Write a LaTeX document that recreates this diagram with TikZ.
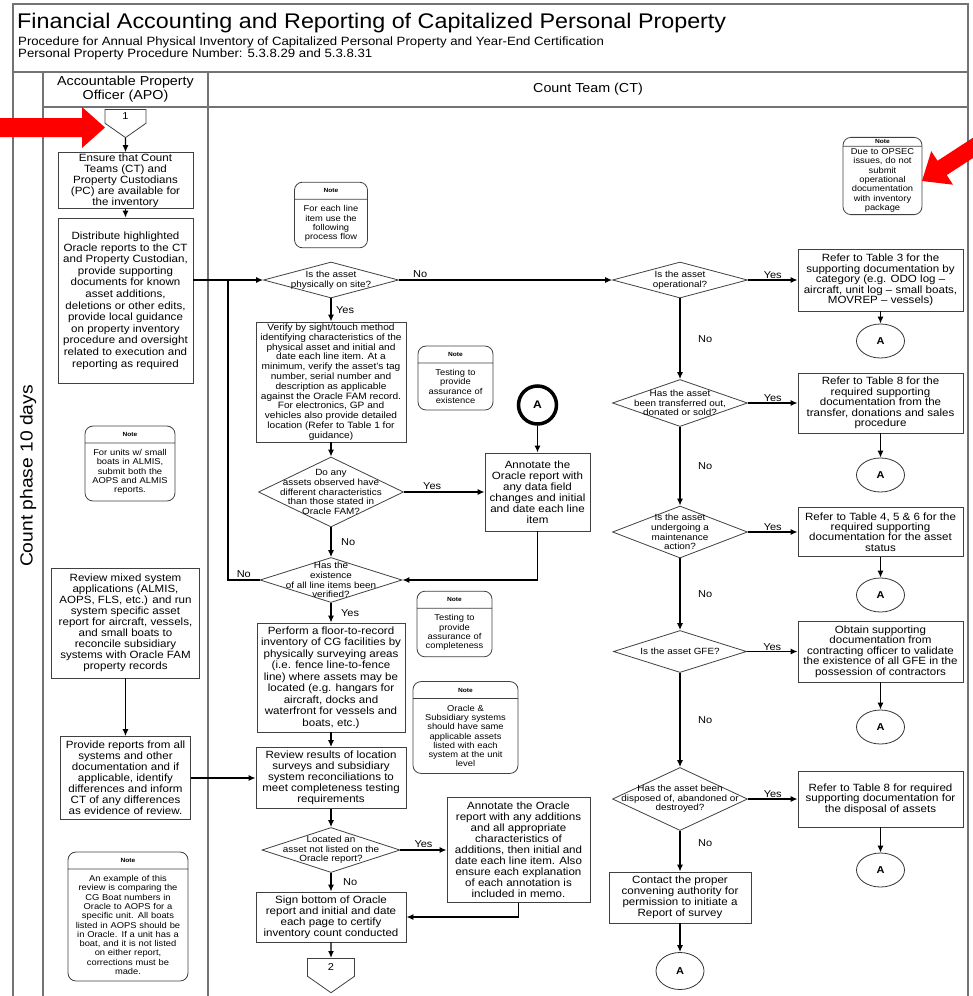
\documentclass[tikz,border=0pt]{standalone}
\usepackage{fontspec}
\setmainfont{Liberation Sans}[FakeStretch=1.1]
\usepackage{tikz}
\usetikzlibrary{shapes.geometric,shapes.symbols,shapes.multipart,arrows.meta}

\newcommand{\notehead}{{\fontsize{6}{6}\selectfont\bfseries Note}}

\tikzset{
  >={Latex[length=7pt,width=6pt]},
  lane/.style={draw=black!55, line width=1.4pt},
  proc/.style={draw=black!75, line width=0.8pt, align=center, inner sep=1pt,
    font=\fontsize{10.5}{11}\selectfont},
  rproc/.style={proc, minimum width=165pt, font=\fontsize{10.5}{10.4}\selectfont},
  decide/.style={diamond, draw=black!75, line width=0.8pt, inner sep=0pt},
  qtext/.style={align=center, inner sep=0pt, font=\fontsize{9}{9.6}\selectfont},
  note/.style={rectangle split, rectangle split parts=2, draw=black!75,
    line width=0.8pt, rounded corners=8pt, align=center, inner xsep=2pt,
    inner ysep=6pt, font=\fontsize{8.5}{9.3}\selectfont},
  conA/.style={ellipse, draw=black!80, line width=0.8pt, minimum width=48pt,
    minimum height=34pt, inner sep=0pt, font=\fontsize{10}{10}\selectfont\bfseries},
  offpage/.style={signal, signal to=south, signal from=nowhere,
    signal pointer angle=110, draw=black!75, line width=0.8pt, inner sep=0pt,
    font=\fontsize{10}{10}\selectfont},
  flow/.style={line width=1.3pt, ->},
  lbl/.style={font=\fontsize{10}{10}\selectfont, inner sep=1.5pt},
}

\begin{document}
\begin{tikzpicture}[x=1pt, y=-1pt]
  \useasboundingbox (0,0) rectangle (973,996);
  \clip (0,0) rectangle (973,996);

  % frame and swim lanes
  \draw[lane] (13,1000) -- (13,4) -- (968,4) -- (968,1000);
  \draw[lane] (13,72) -- (968,72);
  \draw[lane] (43,107) -- (968,107);
  \draw[lane] (43,72) -- (43,1000);
  \draw[lane] (208,72) -- (208,1000);

  \node[anchor=west, inner sep=0pt, font=\fontsize{21.2}{22}\selectfont] (title) at (17,23)
    {Financial Accounting and Reporting of Capitalized Personal Property};
  \node[anchor=north west, align=left, inner sep=0pt, font=\fontsize{12}{12}\selectfont] (subtitle) at (18,37)
    {Procedure for Annual Physical Inventory of Capitalized Personal Property and Year-End Certification\\
     Personal Property Procedure Number: 5.3.8.29 and 5.3.8.31};
  \node[align=center, font=\fontsize{13}{14}\selectfont] (apo) at (125.5,89.5) {Accountable Property\\Officer (APO)};
  \node[font=\fontsize{13}{14}\selectfont] (ct) at (588,89.5) {Count Team (CT)};
  \node[rotate=90, font=\fontsize{17.5}{18}\selectfont] (phase) at (28,476) {Count phase 10 days};

  % APO lane
  \node[offpage, minimum width=41pt, minimum height=16pt, anchor=north] (c1) at (125.5,109) {1};
  \node[proc, minimum width=135pt, minimum height=55pt] (ensure) at (125.5,180.5)
    {Ensure that Count\\Teams (CT) and\\Property Custodians\\(PC) are available for\\the inventory};
  \node[proc, minimum width=135pt, minimum height=165pt, font=\fontsize{10.5}{11.6}\selectfont] (dist) at (125.5,300.5)
    {Distribute highlighted\\Oracle reports to the CT\\and Property Custodian,\\provide supporting\\documents for known\\asset additions,\\deletions or other edits,\\provide local guidance\\on property inventory\\procedure and oversight\\related to execution and\\reporting as required};
  \node[note, text width=86pt] (nboats) at (130,463.5)
    {\notehead\nodepart{two}For units w/ small\\boats in ALMIS,\\submit both the\\AOPS and ALMIS\\reports.};
  \node[proc, minimum width=148pt, minimum height=110pt] (mixed) at (125.5,623)
    {Review mixed system\\applications (ALMIS,\\AOPS, FLS, etc.) and run\\system specific asset\\report for aircraft, vessels,\\and small boats to\\reconcile subsidiary\\systems with Oracle FAM\\property records};
  \node[proc, minimum width=130pt, minimum height=83pt] (provide) at (125.5,778)
    {Provide reports from all\\systems and other\\documentation and if\\applicable, identify\\differences and inform\\CT of any differences\\as evidence of review.};
  \node[note, text width=116pt] (nexample) at (128,916.5)
    {\notehead\nodepart{two}An example of this\\review is comparing the\\CG Boat numbers in\\Oracle to AOPS for a\\specific unit. All boats\\listed in AOPS should be\\in Oracle. If a unit has a\\boat, and it is not listed\\on either report,\\corrections must be\\made.};

  % CT lane, line items
  \node[note, text width=69pt] (nline) at (331,215)
    {\notehead\nodepart{two}For each line\\item use the\\following\\process flow};
  \node[decide, minimum width=135pt, minimum height=36pt,
    label={[qtext]center:{Is the asset\\physically on site?}}] (d1) at (331,280) {};
  \node[proc, minimum width=150pt, minimum height=120pt, font=\fontsize{9.2}{9.8}\selectfont] (verify) at (331,382)
    {Verify by sight/touch method\\identifying characteristics of the\\physical asset and initial and\\date each line item. At a\\minimum, verify the asset's tag\\number, serial number and\\description as applicable\\against the Oracle FAM record.\\For electronics, GP and\\vehicles also provide detailed\\location (Refer to Table 1 for\\guidance)};
  \node[note, text width=71pt] (nexist) at (455.5,378)
    {\notehead\nodepart{two}Testing to\\provide\\assurance of\\existence};
  \node[circle, draw, line width=3.5pt, minimum size=38pt, inner sep=0pt,
    font=\fontsize{11}{11}\selectfont\bfseries] (abold) at (537.5,405) {A};
  \node[proc, minimum width=105pt, minimum height=78pt] (annot1) at (537.5,492)
    {Annotate the\\Oracle report with\\any data field\\changes and initial\\and date each line\\item};
  \node[decide, minimum width=145pt, minimum height=70pt,
    label={[qtext]center:{Do any\\assets observed have\\different characteristics\\than those stated in\\Oracle FAM?}}] (d2) at (331,492) {};
  \node[decide, minimum width=142pt, minimum height=45pt,
    label={[qtext]center:{Has the\\existence\\of all line items been\\verified?}}] (d3) at (331,580) {};
  \coordinate (loop) at (228,280);
  \node[proc, minimum width=148pt, minimum height=109pt, font=\fontsize{10.5}{11.5}\selectfont] (perform) at (331,677.5)
    {Perform a floor-to-record\\inventory of CG facilities by\\physically surveying areas\\(i.e. fence line-to-fence\\line) where assets may be\\located (e.g. hangars for\\aircraft, docks and\\waterfront for vessels and\\boats, etc.)};
  \node[note, text width=71pt] (ncomplete) at (454.5,624)
    {\notehead\nodepart{two}Testing to\\provide\\assurance of\\completeness};
  \node[note, text width=101pt] (noracle) at (465.5,727.5)
    {\notehead\nodepart{two}Oracle \&\\Subsidiary systems\\should have same\\applicable assets\\listed with each\\system at the unit\\level};
  \node[proc, minimum width=150pt, minimum height=61pt] (revres) at (331,778)
    {Review results of location\\surveys and subsidiary\\system reconciliations to\\meet completeness testing\\requirements};
  \node[decide, minimum width=138pt, minimum height=45pt,
    label={[qtext]center:{Located an\\asset not listed on the\\Oracle report?}}] (d4) at (331,850) {};
  \node[proc, minimum width=143pt, minimum height=105pt] (annot2) at (518.5,850)
    {Annotate the Oracle\\report with any additions\\and all appropriate\\characteristics of\\additions, then initial and\\date each line item. Also\\ensure each explanation\\of each annotation is\\included in memo.};
  \node[proc, minimum width=150pt, minimum height=50pt] (sign) at (331,917)
    {Sign bottom of Oracle\\report and initial and date\\each page to certify\\inventory count conducted};
  \node[offpage, minimum width=47pt, minimum height=20pt, anchor=north] (c2) at (331,958) {2};

  % CT lane, assets not on site
  \node[note, text width=75pt, inner ysep=2pt] (nopsec) at (882.5,176)
    {\notehead\nodepart{two}Due to OPSEC\\issues, do not\\submit\\operational\\documentation\\with inventory\\package};
  \node[decide, minimum width=135pt, minimum height=36pt,
    label={[qtext]center:{Is the asset\\operational?}}] (d5) at (680,280) {};
  \node[rproc, minimum height=62pt] (tab3) at (880.5,280)
    {Refer to Table 3 for the\\supporting documentation by\\category (e.g. ODO log --\\aircraft, unit log -- small boats,\\MOVREP -- vessels)};
  \node[conA] (a1) at (880.5,341) {A};
  \node[decide, minimum width=135pt, minimum height=47pt,
    label={[qtext]center:{Has the asset\\been transferred out,\\donated or sold?}}] (d6) at (680,403) {};
  \node[rproc, minimum height=60pt] (tab8) at (880.5,403)
    {Refer to Table 8 for the\\required supporting\\documentation from the\\transfer, donations and sales\\procedure};
  \node[conA] (a2) at (880.5,475) {A};
  \node[decide, minimum width=135pt, minimum height=52pt,
    label={[qtext]center:{Is the asset\\undergoing a\\maintenance\\action?}}] (d7) at (680,532) {};
  \node[rproc, minimum height=49pt] (tab456) at (880.5,532)
    {Refer to Table 4, 5 \& 6 for the\\required supporting\\documentation for the asset\\status};
  \node[conA] (a3) at (880.5,595) {A};
  \node[decide, minimum width=133pt, minimum height=42pt,
    label={[qtext]center:{Is the asset GFE?}}] (d8) at (680,651.5) {};
  \node[rproc, minimum height=61pt] (gfe) at (880.5,651.5)
    {Obtain supporting\\documentation from\\contracting officer to validate\\the existence of all GFE in the\\possession of contractors};
  \node[conA] (a4) at (880.5,727) {A};
  \node[decide, minimum width=135pt, minimum height=63pt,
    label={[qtext]center:{Has the asset been\\disposed of, abandoned or\\destroyed?}}] (d9) at (680,799) {};
  \node[rproc, minimum height=56pt] (disp) at (880.5,799)
    {Refer to Table 8 for required\\supporting documentation for\\the disposal of assets};
  \node[conA] (a5) at (880.5,870) {A};
  \node[proc, minimum width=142pt, minimum height=51pt] (contact) at (680,897.5)
    {Contact the proper\\convening authority for\\permission to initiate a\\Report of survey};
  \node[conA, minimum height=37pt] (a6) at (680,971) {A};

  % connectors
  \draw[flow] (c1) -- (ensure);
  \draw[flow] (ensure) -- (dist);
  \draw[flow] (dist.east |- d1) -- (d1);
  \draw[flow] (mixed) -- (provide);
  \draw[flow] (provide) -- (revres);
  \draw[flow] (d1) -- (verify) node[lbl, midway, right=3pt] {Yes};
  \draw[flow] (d1) -- (d5) node[lbl, pos=0.1, above] {No};
  \draw[flow] (verify) -- (d2);
  \draw[flow] (d2) -- (annot1) node[lbl, pos=0.35, above] {Yes};
  \draw[flow] (abold) -- (annot1);
  \draw[flow] (d2) -- (d3) node[lbl, midway, right=8pt] {No};
  \draw[flow] (annot1) |- (d3);
  \draw[line width=1.3pt] (d3) -| (loop) node[lbl, pos=0.25, above] {No};
  \draw[flow] (d3) -- (perform) node[lbl, midway, right=8pt] {Yes};
  \draw[flow] (perform) -- (revres);
  \draw[flow] (revres) -- (d4);
  \draw[flow] (d4) -- (annot2) node[lbl, midway, above] {Yes};
  \draw[flow] (d4) -- (sign) node[lbl, midway, right=10pt] {No};
  \draw[flow] (annot2) |- (sign);
  \draw[flow] (sign) -- (c2);

  \draw[flow] (d5) -- (tab3) node[lbl, midway, above=-1pt] {Yes};
  \draw[flow] (tab3) -- (a1);
  \draw[flow] (d5) -- (d6) node[lbl, midway, right=16pt] {No};
  \draw[flow] (d6) -- (tab8) node[lbl, midway, above=-1pt] {Yes};
  \draw[flow] (tab8) -- (a2);
  \draw[flow] (d6) -- (d7) node[lbl, midway, right=16pt] {No};
  \draw[flow] (d7) -- (tab456) node[lbl, midway, above=-1pt] {Yes};
  \draw[flow] (tab456) -- (a3);
  \draw[flow] (d7) -- (d8) node[lbl, midway, right=16pt] {No};
  \draw[flow] (d8) -- (gfe) node[lbl, midway, above=-1pt] {Yes};
  \draw[flow] (gfe) -- (a4);
  \draw[flow] (d8) -- (d9) node[lbl, midway, right=16pt] {No};
  \draw[flow] (d9) -- (disp) node[lbl, midway, above=-1pt] {Yes};
  \draw[flow] (disp) -- (a5);
  \draw[flow] (d9) -- (contact) node[lbl, pos=0.3, right=16pt] {No};
  \draw[flow] (contact) -- (a6);

  % red pointers
  \fill[red] (0,118) -- (82,118) -- (82,107) -- (105,127.5) -- (82,148) -- (82,137) -- (0,137) -- cycle;
  \begin{scope}[shift={(922,181)}, rotate=33]
    \fill[red] (0,0) -- (24,20) -- (24,8.5) -- (90,8.5) -- (90,-8.5) -- (24,-8.5) -- (24,-20) -- cycle;
  \end{scope}
\end{tikzpicture}
\end{document}
